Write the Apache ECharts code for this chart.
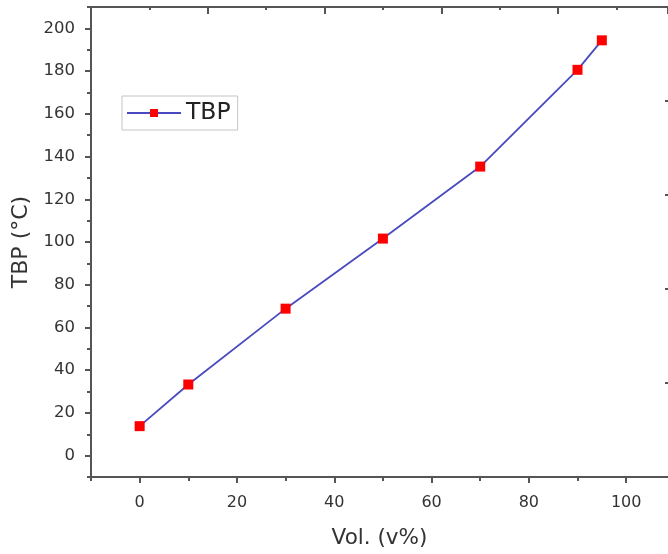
<!DOCTYPE html>
<html>
<head>
<meta charset="utf-8">
<script src="https://cdn.jsdelivr.net/npm/echarts@6/dist/echarts.min.js"></script>
<style>
html,body{margin:0;padding:0;background:#fff;}
#chart{width:668px;height:554px;}
</style>
</head>
<body>
<div id="chart"></div>
<script>
const volPercent = [0, 10, 30, 50, 70, 90, 95];
const tbpValues = [13.8, 33.3, 68.8, 101.6, 135.3, 180.6, 194.4];
const seriesName = 'TBP';
const xAxisTitle = 'Vol. (v%)';
const yAxisTitle = 'TBP (°C)';
const xMajorTicks = [0, 20, 40, 60, 80, 100];
const xMinorTicks = [-10, 10, 30, 50, 70, 90];
const yMajorTicks = [0, 20, 40, 60, 80, 100, 120, 140, 160, 180, 200];
const yMinorTicks = [-10, 10, 30, 50, 70, 90, 110, 130, 150, 170, 190, 210];
// visible x range (the frame's right side is cut off by the picture edge)
const xMin = -10, xMaxVisible = 108.6;
const topAxisMaxVisible = 4.94;

const FONT = 'DejaVu Sans';
const AXIS_COLOR = '#555';
const TEXT_COLOR = '#333';
const tickStyle = {color: AXIS_COLOR, width: 2};

const chart = echarts.init(document.getElementById('chart'), null, {renderer: 'canvas'});
chart.setOption({
  animation: false,
  backgroundColor: '#fff',
  grid: {left: 91, top: 7, right: 0, height: 471, containLabel: false},
  legend: {
    show: true,
    left: 122, top: 96,
    orient: 'vertical',
    data: [seriesName],
    itemWidth: 54, itemHeight: 10,
    padding: [5, 7, 5, 4],
    borderColor: '#c4c4c4', borderWidth: 1,
    textStyle: {fontFamily: FONT, fontSize: 23.5, color: '#222'}
  },
  xAxis: [{
    type: 'value', position: 'bottom', min: xMin, max: xMaxVisible, interval: 10,
    axisLine: {show: true, onZero: false, lineStyle: {color: AXIS_COLOR, width: 2}},
    axisTick: {show: true, inside: false, length: 6, customValues: xMajorTicks, lineStyle: tickStyle},
    splitLine: {show: false},
    axisLabel: {margin: 18, fontFamily: FONT, fontSize: 16, color: TEXT_COLOR, customValues: xMajorTicks},
    name: xAxisTitle, nameLocation: 'middle', nameGap: 50,
    nameTextStyle: {fontFamily: FONT, fontSize: 21.5, color: TEXT_COLOR}
  }, {
    type: 'value', position: 'bottom', min: xMin, max: xMaxVisible, interval: 10,
    axisLine: {show: false, onZero: false},
    axisTick: {show: true, inside: false, length: 4, customValues: xMinorTicks, lineStyle: tickStyle},
    splitLine: {show: false},
    axisLabel: {show: false}
  }, {
    type: 'value', position: 'top', min: 0, max: topAxisMaxVisible, interval: 1,
    axisLine: {show: true, onZero: false, lineStyle: {color: AXIS_COLOR, width: 2}},
    axisTick: {show: true, inside: true, length: 7, lineStyle: tickStyle},
    minorTick: {show: true, splitNumber: 2, length: 3, lineStyle: tickStyle},
    splitLine: {show: false},
    axisLabel: {show: false}
  }],
  yAxis: [{
    type: 'value', position: 'left', min: -10, max: 210, interval: 10,
    axisLine: {show: true, onZero: false, lineStyle: {color: AXIS_COLOR, width: 2}},
    axisTick: {show: true, inside: false, length: 6, customValues: yMajorTicks, lineStyle: tickStyle},
    splitLine: {show: false},
    axisLabel: {margin: 16, fontFamily: FONT, fontSize: 16.5, color: TEXT_COLOR, customValues: yMajorTicks},
    name: yAxisTitle, nameLocation: 'middle', nameGap: 51, nameRotate: 90,
    nameTextStyle: {fontFamily: FONT, fontSize: 22, color: TEXT_COLOR}
  }, {
    type: 'value', position: 'left', min: -10, max: 210, interval: 10,
    axisLine: {show: false, onZero: false},
    axisTick: {show: true, inside: false, length: 4, customValues: yMinorTicks, lineStyle: tickStyle},
    splitLine: {show: false},
    axisLabel: {show: false}
  }, {
    type: 'value', position: 'right', min: 0, max: 5, interval: 1,
    axisLine: {show: false, onZero: false},
    axisTick: {show: true, inside: true, length: 3, lineStyle: tickStyle},
    splitLine: {show: false},
    axisLabel: {show: false}
  }],
  series: [{
    name: seriesName,
    type: 'line',
    xAxisIndex: 0, yAxisIndex: 0,
    data: volPercent.map((v, i) => [v, tbpValues[i]]),
    symbol: 'rect', symbolSize: 10,
    itemStyle: {color: '#ff0000'},
    lineStyle: {color: '#4a4ac0', width: 1.8},
    z: 3
  }]
});
</script>
</body>
</html>
